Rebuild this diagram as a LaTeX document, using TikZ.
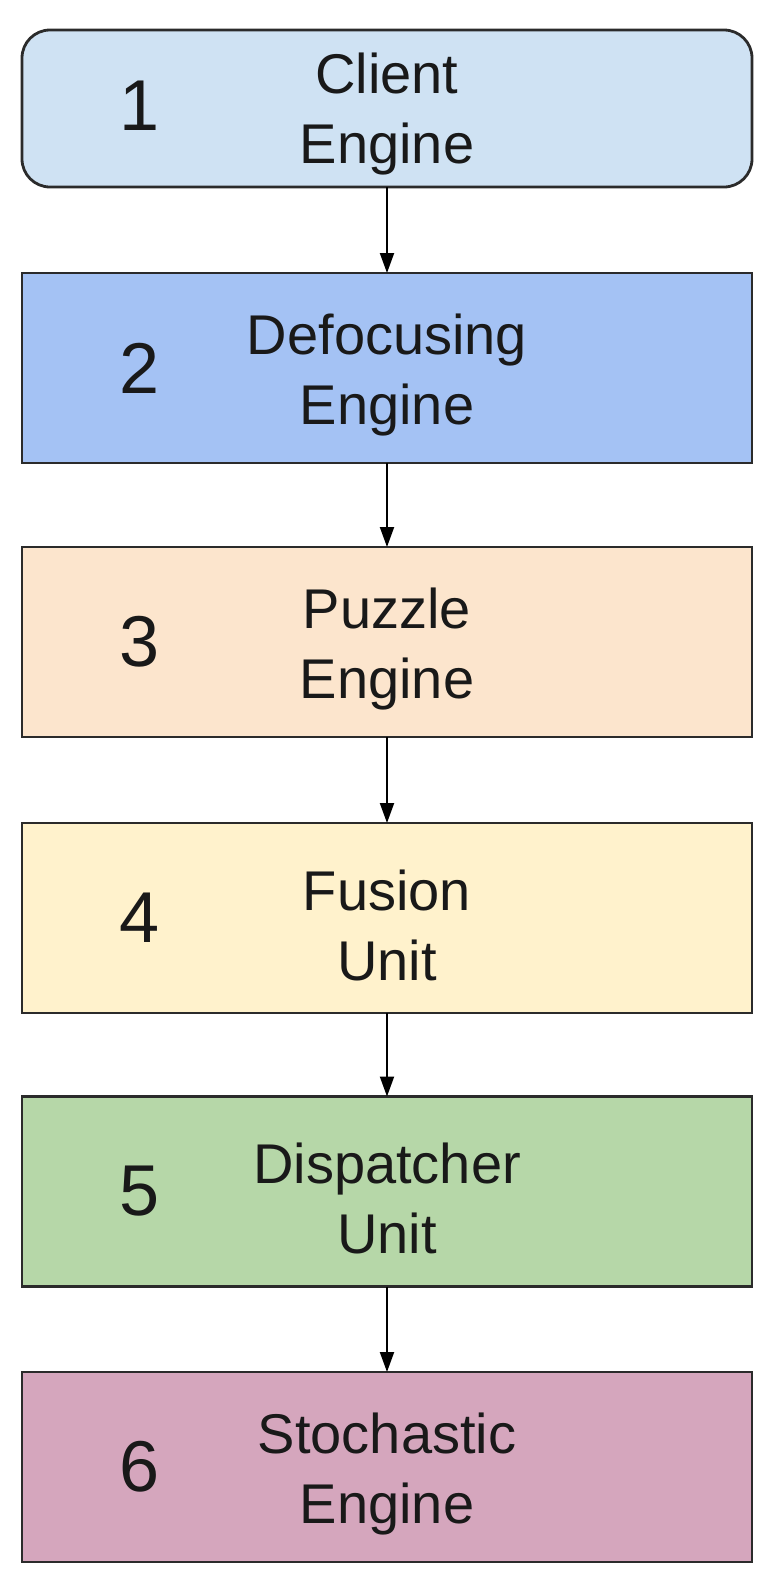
\documentclass[tikz,border=0pt]{standalone}
\usepackage{fontspec}
\setmainfont{Liberation Sans}
\usetikzlibrary{arrows.meta}
\definecolor{c1}{HTML}{CFE2F3}
\definecolor{c2}{HTML}{A4C2F4}
\definecolor{c3}{HTML}{FCE5CD}
\definecolor{c4}{HTML}{FFF2CC}
\definecolor{c5}{HTML}{B6D7A8}
\definecolor{c6}{HTML}{D5A6BD}
\definecolor{edge}{HTML}{2B2B2B}
\tikzset{
  stagebox/.style={draw=edge, line width=2.8pt, minimum width=730pt, minimum height=190pt,
    inner sep=0pt, outer sep=0pt},
  stagetext/.style={inner sep=0pt, align=center,
    font=\fontsize{56pt}{70pt}\selectfont, text=black!90},
  numlabel/.style={inner sep=0pt, font=\fontsize{72pt}{80pt}\selectfont, text=black!90},
  flow/.style={draw=black, line width=2pt, -{Triangle[width=14pt,length=20pt]}}
}
\begin{document}
\begin{tikzpicture}[x=1pt,y=-1pt]
\useasboundingbox (0,0) rectangle (772,1588);
\node[stagebox, fill=c1, minimum height=157pt, rounded corners=28pt] (b1) at (387,108.5) {};
\node[stagebox, fill=c2] (b2) at (387,368) {};
\node[stagebox, fill=c3] (b3) at (387,642) {};
\node[stagebox, fill=c4] (b4) at (387,918) {};
\node[stagebox, fill=c5] (b5) at (387,1191.5) {};
\node[stagebox, fill=c6] (b6) at (387,1467) {};
\node[stagetext] (t1) at ([yshift=-6pt]b1.center) {Client\\Engine};
\node[stagetext] (t2) at ([yshift=-7pt]b2.center) {Defocusing\\Engine};
\node[stagetext] (t3) at ([yshift=-7pt]b3.center) {Puzzle\\Engine};
\node[stagetext] (t4) at ([yshift=-7pt]b4.center) {Fusion\\Unit};
\node[stagetext] (t5) at ([yshift=-7pt]b5.center) {Dispatcher\\Unit};
\node[stagetext] (t6) at ([yshift=-7pt]b6.center) {Stochastic\\Engine};
\node[numlabel] (n1) at (140,106) {1};
\node[numlabel] (n2) at (140,368) {2};
\node[numlabel] (n3) at (140,642) {3};
\node[numlabel] (n4) at (140,918) {4};
\node[numlabel] (n5) at (140,1191.5) {5};
\node[numlabel] (n6) at (140,1467) {6};
\draw[flow] (b1.south) -- (b2.north);
\draw[flow] (b2.south) -- (b3.north);
\draw[flow] (b3.south) -- (b4.north);
\draw[flow] (b4.south) -- (b5.north);
\draw[flow] (b5.south) -- (b6.north);
\end{tikzpicture}
\end{document}
